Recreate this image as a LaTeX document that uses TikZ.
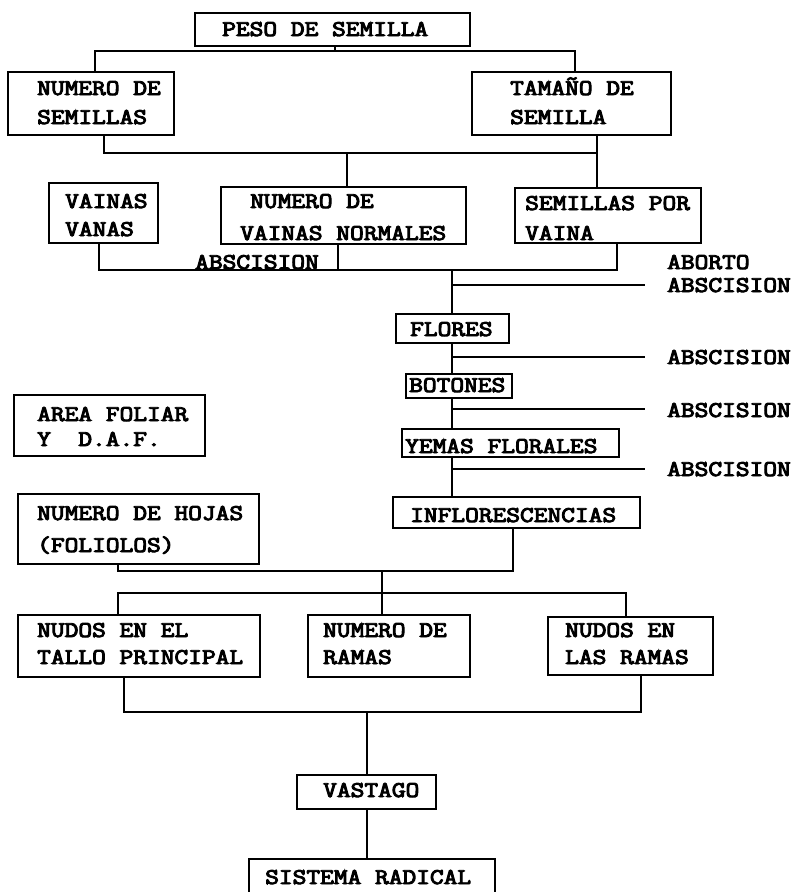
\documentclass[tikz,border=0pt]{standalone}
\usepackage{graphicx}
\usepackage{fontspec}
\newfontfamily\tw[FakeBold=4]{Latin Modern Mono}
\newcommand\twtext[1]{\scalebox{1.185}[1]{#1}}
\begin{document}
\begin{tikzpicture}[x=1pt,y=-1pt,
  box/.style={draw, line width=1.8pt, inner sep=0pt, anchor=north west},
  txt/.style={anchor=base west, inner sep=0pt, font=\tw\fontsize{22.5}{28}\selectfont},
  conn/.style={line width=1.8pt},
  branch/.style={line width=1.3pt}]
\useasboundingbox (0,0) rectangle (797,892);
\clip (0,0) rectangle (797,892);
% boxes
\node[box, minimum width=275pt, minimum height=33pt] (peso) at (194,12) {};
\node[box, minimum width=166pt, minimum height=63pt] (numsem) at (7,71) {};
\node[box, minimum width=199pt, minimum height=63pt] (tamano) at (471,71) {};
\node[box, minimum width=109pt, minimum height=60pt] (vvanas) at (48,182) {};
\node[box, minimum width=245pt, minimum height=57pt] (normales) at (220,186) {};
\node[box, minimum width=186pt, minimum height=55pt] (spv) at (514,187) {};
\node[box, minimum width=113pt, minimum height=29pt] (flores) at (395,313) {};
\node[box, minimum width=106pt, minimum height=24pt] (botones) at (405,373) {};
\node[box, minimum width=217pt, minimum height=28pt] (yemas) at (401,428) {};
\node[box, minimum width=191pt, minimum height=61pt] (area) at (13,394) {};
\node[box, minimum width=247pt, minimum height=31pt] (inflor) at (392,496) {};
\node[box, minimum width=241pt, minimum height=70pt] (hojas) at (17,493) {};
\node[box, minimum width=242pt, minimum height=62pt] (nudosel) at (17,614) {};
\node[box, minimum width=162pt, minimum height=62pt] (ramas) at (307,614) {};
\node[box, minimum width=165pt, minimum height=58pt] (nudosr) at (547,616) {};
\node[box, minimum width=139pt, minimum height=34pt] (vastago) at (296,774) {};
\node[box, minimum width=246pt, minimum height=47pt] (sistema) at (248,858) {};
% texts
\node[txt] (t-peso) at (222,36) {\twtext{PESO DE SEMILLA}};
\node[txt] (t-numsem1) at (37,95) {\twtext{NUMERO DE}};
\node[txt] (t-numsem2) at (37,124) {\twtext{SEMILLAS}};
\node[txt] (t-tam1) at (510,95) {\twtext{TAMAÑO DE}};
\node[txt] (t-tam2) at (510,124) {\twtext{SEMILLA}};
\node[txt] (t-vv1) at (65,208) {\twtext{VAINAS}};
\node[txt] (t-vv2) at (65,236) {\twtext{VANAS}};
\node[txt] (t-nor1) at (250,208) {\twtext{NUMERO DE}};
\node[txt] (t-nor2) at (240,240) {\twtext{VAINAS NORMALES}};
\node[txt] (t-spv1) at (525,210) {\twtext{SEMILLAS POR}};
\node[txt] (t-spv2) at (525,240) {\twtext{VAINA}};
\node[txt] (t-abs0) at (195,269) {\twtext{ABSCISION}};
\node[txt] (t-abort) at (667,269) {\twtext{ABORTO}};
\node[txt] (t-abs1) at (667,292) {\twtext{ABSCISION}};
\node[txt] (t-flores) at (410,336) {\twtext{FLORES}};
\node[txt] (t-abs2) at (667,364) {\twtext{ABSCISION}};
\node[txt] (t-botones) at (409,392) {\twtext{BOTONES}};
\node[txt] (t-abs3) at (667,417) {\twtext{ABSCISION}};
\node[txt] (t-yemas) at (405,453) {\twtext{YEMAS FLORALES}};
\node[txt] (t-abs4) at (667,476) {\twtext{ABSCISION}};
\node[txt] (t-area1) at (37,421) {\twtext{AREA FOLIAR}};
\node[txt] (t-area2) at (37,446) {\twtext{Y\ \ D.A.F.}};
\node[txt] (t-hojas1) at (37,520) {\twtext{NUMERO DE HOJAS}};
\node[txt] (t-hojas2) at (37,552) {\twtext{(FOLIOLOS)}};
\node[txt] (t-inflor) at (410,522) {\twtext{INFLORESCENCIAS}};
\node[txt] (t-nel1) at (37,637) {\twtext{NUDOS EN EL}};
\node[txt] (t-nel2) at (37,664) {\twtext{TALLO PRINCIPAL}};
\node[txt] (t-ram1) at (323,637) {\twtext{NUMERO DE}};
\node[txt] (t-ram2) at (323,664) {\twtext{RAMAS}};
\node[txt] (t-nr1) at (565,637) {\twtext{NUDOS EN}};
\node[txt] (t-nr2) at (565,664) {\twtext{LAS RAMAS}};
\node[txt] (t-vast) at (323,797) {\twtext{VASTAGO}};
\node[txt] (t-sist) at (265,884) {\twtext{SISTEMA RADICAL}};
% junction coordinates
\coordinate (t0) at (335,51);
\coordinate (tL) at (95,51);
\coordinate (tR) at (575,51);
\coordinate (m1L) at (104,153);
\coordinate (m1C) at (347,153);
\coordinate (m1R) at (597,153);
\coordinate (b1L) at (99,270);
\coordinate (b1C) at (338,270);
\coordinate (b1M) at (452,270);
\coordinate (b1R) at (617,270);
\coordinate (r1) at (645,285);
\coordinate (r2) at (645,357);
\coordinate (r3) at (645,409);
\coordinate (r4) at (645,469);
\coordinate (h1L) at (118,571);
\coordinate (h1C) at (382,571);
\coordinate (h1R) at (513,571);
\coordinate (h2L) at (118,593);
\coordinate (h2C) at (382,593);
\coordinate (h2R) at (626,593);
\coordinate (k1L) at (124,712);
\coordinate (k1C) at (367,712);
\coordinate (k1R) at (641,712);
% connectors
\draw[conn] (peso.south -| t0) -- (t0);
\draw[conn] (numsem.north -| tL) -- (tL) -- (tR) -- (tamano.north -| tR);
\draw[conn] (numsem.south -| m1L) -- (m1L) -- (m1R) -- (tamano.south -| m1R);
\draw[conn] (m1C) -- (normales.north -| m1C);
\draw[conn] (m1R) -- (spv.north -| m1R);
\draw[conn] (vvanas.south -| b1L) -- (b1L) -- (b1R) -- (spv.south -| b1R);
\draw[conn] (normales.south -| b1C) -- (b1C);
\draw[conn] (b1M) -- (flores.north -| b1M);
\draw[conn] (flores.south -| b1M) -- (botones.north -| b1M);
\draw[conn] (botones.south -| b1M) -- (yemas.north -| b1M);
\draw[conn] (yemas.south -| b1M) -- (inflor.north -| b1M);
\draw[branch] (b1M |- r1) -- (r1);
\draw[branch] (b1M |- r2) -- (r2);
\draw[branch] (b1M |- r3) -- (r3);
\draw[branch] (b1M |- r4) -- (r4);
\draw[conn] (hojas.south -| h1L) -- (h1L) -- (h1R) -- (inflor.south -| h1R);
\draw[conn] (h1C) -- (h2C);
\draw[conn] (nudosel.north -| h2L) -- (h2L) -- (h2R) -- (nudosr.north -| h2R);
\draw[conn] (h2C) -- (ramas.north -| h2C);
\draw[conn] (nudosel.south -| k1L) -- (k1L) -- (k1R) -- (nudosr.south -| k1R);
\draw[conn] (k1C) -- (vastago.north -| k1C);
\draw[conn] (vastago.south -| k1C) -- (sistema.north -| k1C);
\end{tikzpicture}
\end{document}
